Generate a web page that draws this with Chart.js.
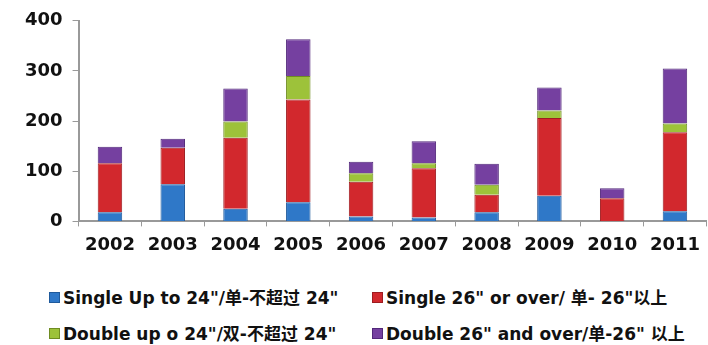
<!DOCTYPE html>
<html>
<head>
<meta charset="utf-8">
<script src="https://cdn.jsdelivr.net/npm/chart.js@4.4.0/dist/chart.umd.min.js"></script>
<style>
  body { margin: 0; background: #fff; }
  #wrap { position: relative; width: 708px; height: 270px; }
  #legend { position: relative; width: 708px; height: 75px; font-family: 'DejaVu Sans', 'Noto Sans CJK SC', sans-serif; font-weight: bold; font-size: 17px; color: #111; }
  .item { position: absolute; white-space: nowrap; }
  .box { display: inline-block; width: 9px; height: 9px; margin-right: 3px; vertical-align: 1px; }
</style>
</head>
<body>
<div id="wrap"><canvas id="mycanvas"></canvas></div>
<div id="legend"></div>
<script>
var years = ['2002', '2003', '2004', '2005', '2006', '2007', '2008', '2009', '2010', '2011'];
var singleUp24 = [18, 74, 25, 38, 10, 8, 18, 51, 0, 20];
var single26 = [98, 73, 142, 205, 69, 98, 35, 155, 46, 158];
var doubleUp24 = [0, 0, 32, 47, 17, 10, 20, 15, 0, 17];
var double26 = [33, 18, 66, 73, 23, 44, 42, 46, 20, 110];
var yTicks = [0, 100, 200, 300, 400];

var labels = [
	'Single Up to 24"/单-不超过 24"',
	'Single 26" or over/ 单- 26"以上',
	'Double up o 24"/双-不超过 24"',
	'Double 26" and over/单-26" 以上'
];
var colors = ['#2f78c8', '#d2282d', '#9dc23a', '#7540a0'];
var borders = ['#1f5a9c', '#9e1c20', '#6f8c22', '#52287a'];
var series = [singleUp24, single26, doubleUp24, double26];

var datasets = [];
for (var i in series) {
	datasets.push({
		label: labels[i],
		data: series[i],
		backgroundColor: colors[i],
		borderColor: borders[i],
		borderWidth: 1,
		barPercentage: 0.39,
		categoryPercentage: 1
	});
}

var tickFont = { family: "'DejaVu Sans', sans-serif", size: 18, weight: 'bold' };

var ctx = document.getElementById('mycanvas');
var barGraph = new Chart(ctx, {
	type: 'bar',
	data: { labels: years, datasets: datasets },
	options: {
		responsive: true,
		maintainAspectRatio: false,
		animation: false,
		layout: { padding: { top: 3, left: 15, right: 0, bottom: 6 } },
		plugins: { legend: { display: false }, tooltip: { enabled: false } },
		scales: {
			x: {
				stacked: true,
				grid: { drawOnChartArea: false, color: '#999', tickLength: 5, offset: true },
				border: { color: '#999', width: 2 },
				ticks: { color: '#111', font: tickFont, padding: 8 }
			},
			y: {
				stacked: true,
				min: 0,
				max: 400,
				afterBuildTicks: function(axis) {
					axis.ticks = yTicks.map(function(v) { return { value: v }; });
				},
				grid: { drawOnChartArea: false, color: '#999', tickLength: 6 },
				border: { color: '#999', width: 2 },
				ticks: { color: '#111', font: tickFont, padding: 10 }
			}
		}
	}
});

// legend: two columns, two rows
var pos = [[49, 14], [372, 14], [49, 50], [372, 50]];
var lg = document.getElementById('legend');
for (var j in labels) {
	var d = document.createElement('div');
	d.className = 'item';
	d.style.left = pos[j][0] + 'px';
	d.style.top = pos[j][1] + 'px';
	d.innerHTML = '<span class="box" style="background:' + colors[j] + ';border:1px solid ' + borders[j] + '"></span>';
	d.appendChild(document.createTextNode(labels[j]));
	lg.appendChild(d);
}
</script>
</body>
</html>
